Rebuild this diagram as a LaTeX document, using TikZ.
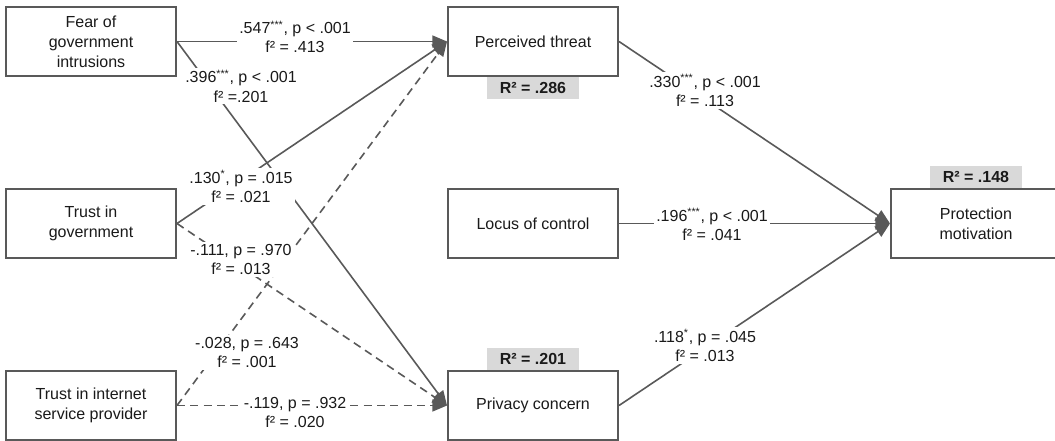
\documentclass[tikz,border=0pt]{standalone}
\usepackage{fontspec}
\setmainfont{Liberation Sans}
\usetikzlibrary{arrows.meta}
\definecolor{edgegray}{HTML}{595959}
\definecolor{rgray}{HTML}{D9D9D9}
\definecolor{txt}{HTML}{1A1A1A}
\begin{document}
\begin{tikzpicture}[x=0.75pt,y=-0.75pt,
  box/.style={draw=edgegray, line width=1.5pt, fill=white, minimum width=127.5pt, minimum height=51.75pt, inner sep=0pt, align=center, font=\fontsize{12}{15}\selectfont, text=txt},
  lbl/.style={fill=white, inner sep=1.5pt, align=center, font=\fontsize{12}{14.25}\selectfont, text=txt},
  rsq/.style={fill=rgray, minimum width=69pt, minimum height=16.5pt, inner sep=0pt, font=\bfseries\fontsize{12}{14}\selectfont, text=txt},
  conn/.style={draw=edgegray, line width=1.2pt, -{Triangle[length=11pt,width=9pt]}},
  dconn/.style={conn, dash pattern=on 6pt off 4pt}
]
\path[use as bounding box] (0,0) rectangle (1055,440);
\clip (0,0) rectangle (1055,440);

% boxes
\node[box] (fear) at (91,41.5) {Fear of\\government\\intrusions};
\node[box] (gov) at (91,223.5) {Trust in\\government};
\node[box] (isp) at (91,405.5) {Trust in internet\\service provider};
\node[box] (pt) at (533,41.5) {Perceived threat};
\node[box] (loc) at (533,223.5) {Locus of control};
\node[box] (pc) at (533,405.5) {Privacy concern};
\node[box] (pm) at (976,223.5) {Protection\\motivation};

% connectors
\draw[conn] (fear.east) -- (pt.west);
\draw[conn] (fear.east) -- (pc.west);
\draw[conn] (gov.east) -- (pt.west);
\draw[dconn] (gov.east) -- (pc.west);
\draw[dconn] (isp.east) -- (pt.west);
\draw[dconn] (isp.east) -- (pc.west);
\draw[conn] (pt.east) -- (pm.west);
\draw[conn] (loc.east) -- (pm.west);
\draw[conn] (pc.east) -- (pm.west);

% labels
\node[lbl] (l547) at (295,37) {.547\textsuperscript{***}, p < .001\\f² = .413};
\node[lbl] (l396) at (241,86) {.396\textsuperscript{***}, p < .001\\f² =.201};
\node[lbl] (l130) at (241,186.5) {.130\textsuperscript{*}, p = .015\\f² = .021};
\node[lbl] (l111) at (241,259.5) {-.111, p = .970\\f² = .013};
\node[lbl] (l028) at (247,352.5) {-.028, p = .643\\f² = .001};
\node[lbl] (l119) at (295,412.5) {-.119, p = .932\\f² = .020};
\node[lbl] (l330) at (705,90.5) {.330\textsuperscript{***}, p < .001\\f² = .113};
\node[lbl] (l196) at (712,224) {.196\textsuperscript{***}, p < .001\\f² = .041};
\node[lbl] (l118) at (705,345.5) {.118\textsuperscript{*}, p = .045\\f² = .013};

% R squared
\node[rsq, anchor=north] (rpt) at (pt.south) {R² = .286};
\node[rsq, anchor=south] (rpc) at (pc.north) {R² = .201};
\node[rsq, anchor=south] (rpm) at (pm.north) {R² = .148};
\end{tikzpicture}
\end{document}
